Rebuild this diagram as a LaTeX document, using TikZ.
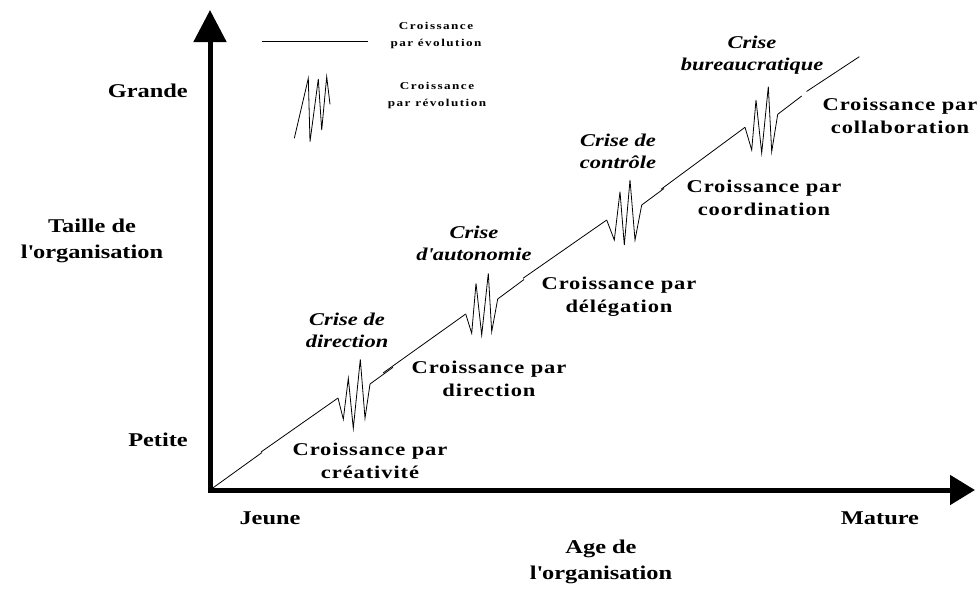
\documentclass[tikz,border=0pt]{standalone}
\usepackage{fontspec}
\setmainfont{Liberation Serif}[FakeStretch=1.25]
\newfontfamily\growthfont{Liberation Serif}[FakeStretch=1.25,LetterSpace=5]
\newfontfamily\legendfont{Liberation Serif}[FakeStretch=1.25,LetterSpace=14]
\usetikzlibrary{arrows.meta}
\begin{document}
\begin{tikzpicture}[x=1pt,y=-1pt,
  axislabel/.style={font=\fontsize{19.5}{26.5}\selectfont\bfseries,align=center,inner sep=0pt},
  growth/.style={font=\growthfont\fontsize{18}{23}\selectfont\bfseries,align=center,inner sep=0pt},
  crisis/.style={font=\fontsize{18}{22}\selectfont\bfseries\itshape,align=center,inner sep=0pt},
  legendtxt/.style={font=\legendfont\fontsize{10.5}{17}\selectfont\bfseries,align=center,inner sep=0pt},
  evo/.style={line width=0.8pt,line join=miter},
  axis/.style={line width=5pt,line join=miter}]
\useasboundingbox (0,0) rectangle (979,592);
% axes
\coordinate (O) at (210,490);
\coordinate (ytip) at (210,10);
\coordinate (xtip) at (975,490);
\draw[axis,{Triangle[length=32pt,width=32pt]}-{Triangle[length=25pt,width=29pt]}] (ytip) -- (O) -- (xtip);
% evolution / revolution path
\coordinate (z1) at (338,398);
\coordinate (z1e) at (370,384);
\coordinate (z2) at (465.7,314);
\coordinate (z2e) at (497.7,299);
\coordinate (z3) at (606.7,220);
\coordinate (z3e) at (641.7,205);
\coordinate (z4) at (745,127.3);
\coordinate (z4e) at (777.7,114.3);
\coordinate (end) at (859.3,56.7);
\draw[evo] (O) -- (262,452.5);
\draw[evo] (261,452) -- (z1);
\draw[evo] (z1) -- (343.3,419.3) -- (348.3,378.3) -- (353.3,428.3) -- (360.3,359.3) -- (365,418.3) -- (z1e);
\draw[evo] (z1e) -- (393,367.3);
\draw[evo] (383,373) -- (z2);
\draw[evo] (z2) -- (471.7,333.3) -- (476,283.3) -- (481.7,335) -- (488.3,273.3) -- (491.7,331.7) -- (z2e);
\draw[evo] (z2e) -- (524,279.5);
\draw[evo] (523,278.3) -- (z3);
\draw[evo] (z3) -- (614.3,240) -- (620,191.7) -- (624.3,245) -- (630,180) -- (635,240) -- (z3e);
\draw[evo] (z3e) -- (664,188.5);
\draw[evo] (661,189.3) -- (z4);
\draw[evo] (z4) -- (751.7,150) -- (756,100) -- (761.7,153) -- (768.3,86.7) -- (771.7,151.7) -- (z4e);
\draw[evo] (z4e) -- (801.7,96);
\draw[evo] (806.5,91.5) -- (end);
% legend
\coordinate (la) at (261.7,41);
\coordinate (lb) at (368.3,41);
\draw[evo] (la) -- (lb);
\coordinate (ra) at (294.3,138.3);
\draw[evo] (ra) -- (308.3,78.3) -- (310,141.7) -- (318.3,79) -- (321.7,130) -- (326.7,76.7) -- (330,104.3);
\node[legendtxt] (levo) at (436,35) {Croissance\\par évolution};
\node[legendtxt] (lrev) at (437,95) {Croissance\\par révolution};
% axis labels
\node[axislabel,anchor=east] (grande) at (188,91) {Grande};
\node[axislabel,anchor=east] (petite) at (188,440) {Petite};
\node[axislabel] (taille) at (92,241) {Taille de\\l\textquotesingle organisation};
\node[axislabel] (jeune) at (270,518) {Jeune};
\node[axislabel] (mature) at (880,518) {Mature};
\node[axislabel] (age) at (601,562) {Age de\\l\textquotesingle organisation};
% growth labels
\node[growth] (creat) at (370,461) {Croissance par\\créativité};
\node[growth] (dir) at (489,379) {Croissance par\\direction};
\node[growth] (deleg) at (619,297) {Croissance par\\délégation};
\node[growth] (coord) at (764,198) {Croissance par\\coordination};
\node[growth] (collab) at (900,116) {Croissance par\\collaboration};
% crisis labels
\node[crisis] (cdir) at (347,330) {Crise de\\direction};
\node[crisis] (caut) at (474,243) {Crise\\d\textquotesingle autonomie};
\node[crisis] (cctrl) at (618,151) {Crise de\\contrôle};
\node[crisis] (cbur) at (752,55) {Crise\\bureaucratique};
\end{tikzpicture}
\end{document}
